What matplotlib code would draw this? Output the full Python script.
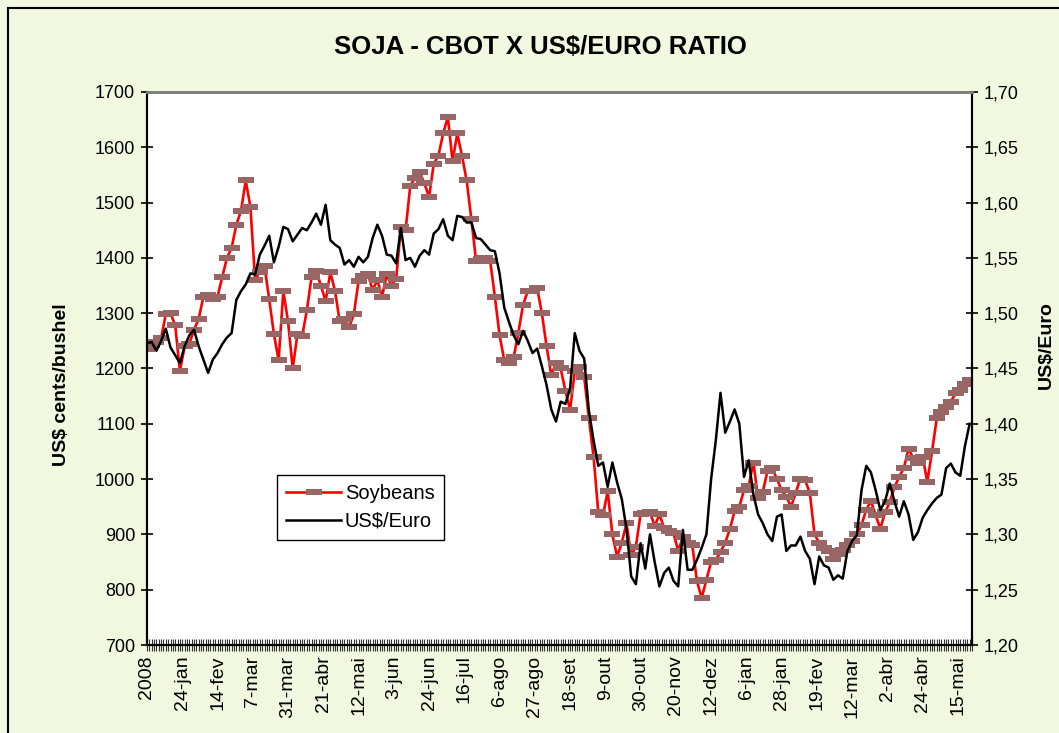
import matplotlib
matplotlib.use("Agg")
import matplotlib.pyplot as plt
from matplotlib.patches import Rectangle
from matplotlib.ticker import FixedLocator, FuncFormatter, MultipleLocator
import numpy as np

plt.rcParams['font.family'] = ['Liberation Sans', 'DejaVu Sans']

# trading-day axis: one value every 2 sessions, Jan/2008 .. May/2009
step = 2
tick_every = 15
n_days = 352
tick_labels = ['2008', '24-jan', '14-fev', '7-mar', '31-mar', '21-abr', '12-mai',
               '3-jun', '24-jun', '16-jul', '6-ago', '27-ago', '18-set', '9-out',
               '30-out', '20-nov', '12-dez', '6-jan', '28-jan', '19-fev', '12-mar',
               '2-abr', '24-abr', '15-mai']

# soybeans, US$ cents/bushel (CBOT)
soy = [1235, 1242, 1248, 1255, 1298, 1300, 1278, 1195, 1240, 1245,
       1270, 1290, 1330, 1333, 1326, 1330, 1365, 1400, 1418, 1460,
       1485, 1540, 1492, 1360, 1375, 1385, 1325, 1262, 1215, 1340,
       1285, 1200, 1262, 1258, 1305, 1365, 1376, 1350, 1322, 1374,
       1340, 1285, 1290, 1275, 1298, 1358, 1368, 1370, 1342, 1360,
       1330, 1370, 1350, 1362, 1455, 1450, 1530, 1545, 1555, 1535,
       1510, 1570, 1585, 1625, 1655, 1575, 1625, 1585, 1540, 1470,
       1395, 1398, 1400, 1395, 1330, 1260, 1215, 1210, 1220, 1265,
       1315, 1340, 1340, 1345, 1300, 1240, 1188, 1210, 1200, 1160,
       1125, 1195, 1203, 1185, 1110, 1040, 940, 935, 978, 900,
       860, 885, 920, 862, 878, 937, 938, 940, 915, 936,
       912, 906, 902, 870, 895, 884, 880, 815, 785, 818,
       850, 854, 868, 885, 910, 942, 950, 980, 988, 1030,
       965, 977, 1015, 1020, 1000, 980, 968, 950, 975, 1001,
       998, 975, 900, 885, 876, 870, 855, 864, 872, 880,
       888, 900, 917, 945, 960, 935, 910, 940, 958, 985,
       1004, 1020, 1055, 1038, 1030, 1040, 995, 1050, 1110, 1122,
       1130, 1140, 1155, 1162, 1172, 1180]

# US$ per Euro
usd_euro = [1.473, 1.474, 1.466, 1.475, 1.486, 1.469, 1.462, 1.455, 1.470, 1.480,
            1.485, 1.470, 1.458, 1.446, 1.458, 1.464, 1.472, 1.478, 1.482, 1.512,
            1.520, 1.526, 1.536, 1.535, 1.553, 1.561, 1.570, 1.546, 1.560, 1.578,
            1.576, 1.565, 1.571, 1.577, 1.575, 1.582, 1.590, 1.580, 1.598, 1.566,
            1.562, 1.559, 1.544, 1.548, 1.542, 1.551, 1.546, 1.551, 1.568, 1.580,
            1.570, 1.553, 1.552, 1.545, 1.577, 1.548, 1.550, 1.542, 1.552, 1.557,
            1.553, 1.572, 1.576, 1.585, 1.570, 1.566, 1.588, 1.587, 1.582, 1.582,
            1.568, 1.567, 1.562, 1.557, 1.556, 1.536, 1.505, 1.492, 1.480, 1.472,
            1.484, 1.475, 1.464, 1.468, 1.452, 1.435, 1.413, 1.402, 1.420, 1.418,
            1.432, 1.482, 1.466, 1.459, 1.412, 1.385, 1.362, 1.365, 1.343, 1.365,
            1.347, 1.332, 1.305, 1.262, 1.255, 1.292, 1.269, 1.300, 1.275, 1.253,
            1.265, 1.270, 1.258, 1.253, 1.304, 1.268, 1.268, 1.277, 1.288, 1.300,
            1.350, 1.385, 1.428, 1.392, 1.402, 1.413, 1.400, 1.352, 1.367, 1.336,
            1.318, 1.310, 1.300, 1.294, 1.316, 1.318, 1.285, 1.290, 1.290, 1.298,
            1.285, 1.278, 1.255, 1.280, 1.272, 1.270, 1.259, 1.263, 1.260, 1.285,
            1.294, 1.299, 1.340, 1.362, 1.356, 1.340, 1.322, 1.330, 1.346, 1.330,
            1.316, 1.330, 1.318, 1.295, 1.302, 1.315, 1.322, 1.328, 1.333, 1.336,
            1.360, 1.364, 1.356, 1.353, 1.380, 1.400]

x = np.arange(len(soy)) * step

W, H = 1059, 733
fig = plt.figure(figsize=(W / 100, H / 100), dpi=100, facecolor='#F2F7DF')
fig.patches.append(Rectangle((8 / W, -0.1), 1.2, 1.1 - 8 / H, transform=fig.transFigure,
                             fill=False, edgecolor='black', linewidth=1.5))

ax = fig.add_axes([147 / W, 1 - 645 / H, 825 / W, 553 / H])
ax.set_facecolor('white')
ax2 = ax.twinx()

box = [(-1, -0.42), (1, -0.42), (1, 0.42), (-1, 0.42)]
ax.plot(x, soy, color='#FF0000', lw=1.9, marker=box, markersize=11,
        markerfacecolor='#996666', markeredgewidth=0, label='Soybeans')
ax2.plot(x, usd_euro, color='black', lw=1.8, label='US$/Euro')

ax.set_xlim(0, n_days - 1)
ax.set_ylim(700, 1700)
ax2.set_ylim(1.20, 1.70)
ax.yaxis.set_major_locator(MultipleLocator(100))
ax2.yaxis.set_major_locator(MultipleLocator(0.05))
ax2.yaxis.set_major_formatter(FuncFormatter(lambda v, p: f'{v:.2f}'.replace('.', ',')))

ax.xaxis.set_major_locator(FixedLocator(np.arange(len(tick_labels)) * tick_every))
ax.set_xticklabels(tick_labels, rotation=90, fontsize=14)
ax.xaxis.set_minor_locator(MultipleLocator(1))
ax.tick_params(axis='x', which='both', direction='inout', length=9, width=0.8, color='#333333')
ax.tick_params(axis='x', which='major', pad=3)
ax.tick_params(axis='y', direction='inout', length=9, width=1.2, labelsize=13, pad=4)
ax2.tick_params(axis='y', direction='inout', length=9, width=1.2, labelsize=13, pad=4)

for a in (ax, ax2):
    a.spines['top'].set_color('#808080')
    a.spines['top'].set_linewidth(2)
    a.spines['left'].set_linewidth(1.5)
    a.spines['bottom'].set_linewidth(1.5)
    a.spines['right'].set_linewidth(1.5)

fig.text(540 / W, 1 - 47 / H, 'SOJA - CBOT X US$/EURO RATIO', ha='center', va='center',
         fontsize=18.5, fontweight='bold')
fig.text(62 / W, 1 - 385 / H, 'US$ cents/bushel', ha='center', va='center', rotation=90,
         fontsize=14, fontweight='bold')
fig.text(1046 / W, 1 - 345 / H, 'US$/Euro', ha='center', va='center', rotation=90,
         fontsize=14, fontweight='bold')

h1, l1 = ax.get_legend_handles_labels()
h2, l2 = ax2.get_legend_handles_labels()
leg = ax2.legend(h1 + h2, l1 + l2, loc='lower left', bbox_to_anchor=(0.158, 0.19),
                 fontsize=14.5, frameon=True, fancybox=False, framealpha=1,
                 edgecolor='black', borderpad=0.45, handlelength=2.7, labelspacing=0.45,
                 handletextpad=0.2, numpoints=1, borderaxespad=0)
leg.get_frame().set_linewidth(1.0)

fig.savefig('out.png', dpi=100, facecolor=fig.get_facecolor())
